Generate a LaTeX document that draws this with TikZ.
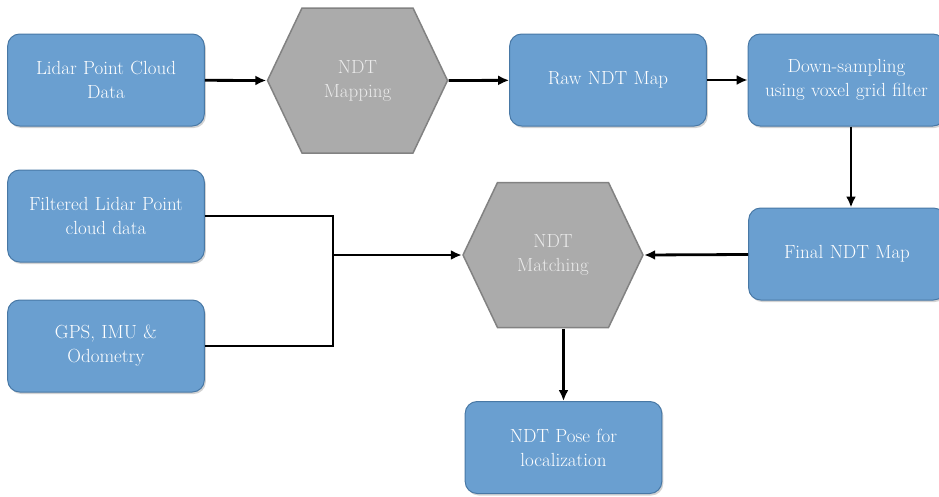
\documentclass[tikz,border=0pt]{standalone}
\usepackage{tikz}
\usetikzlibrary{arrows.meta}
\usetikzlibrary{shadows}
\definecolor{boxblue}{RGB}{106,159,208}
\definecolor{boxedge}{RGB}{72,120,165}
\definecolor{hexgray}{RGB}{171,171,171}
\definecolor{hexedge}{RGB}{130,130,130}
\tikzset{box/.style={rectangle, rounded corners=12pt, fill=boxblue, draw=boxedge, line width=1pt,
      minimum width=194pt, minimum height=92pt, text width=190pt, align=center, text=white,
      font=\fontsize{19}{24}\selectfont, drop shadow={shadow xshift=1.5pt, shadow yshift=-2pt, opacity=0.35}}}
\tikzset{hexbox/.style={rectangle, minimum width=182pt, minimum height=147pt, inner sep=0pt,
      align=center, text=white!92!black, font=\fontsize{19}{24}\selectfont,
      path picture={
        \draw[fill=hexgray, draw=hexedge, line width=1.5pt]
          ([xshift=1pt]path picture bounding box.west)
          -- ([xshift=35.5pt,yshift=-1pt]path picture bounding box.north west)
          -- ([xshift=-35.5pt,yshift=-1pt]path picture bounding box.north east)
          -- ([xshift=-1pt]path picture bounding box.east)
          -- ([xshift=-35.5pt,yshift=1pt]path picture bounding box.south east)
          -- ([xshift=35.5pt,yshift=1pt]path picture bounding box.south west) -- cycle;}}}
\tikzset{flow/.style={line width=2.8pt, -{Latex[length=11pt,width=10pt]}}}

\begin{document}
\begin{tikzpicture}[x=1pt,y=-1pt]
		\useasboundingbox (0,0) rectangle (939,496);
		% top row
		\node[box] (lidar) at (106,80) {Lidar Point Cloud\\Data};
		\node[hexbox] (mapping) at (357.5,80.5) {NDT\\Mapping};
		\node[box] (raw) at (608,80) {Raw NDT Map};
		\node[box, minimum width=183pt] (down) at (846.5,80) {Down-sampling\\using voxel grid filter};
		% middle and bottom
		\node[box] (filtered) at (106,216) {Filtered Lidar Point\\cloud data};
		\node[box] (gps) at (106,346) {GPS, IMU \&\\Odometry};
		\node[hexbox] (matching) at (553,255) {NDT\\Matching};
		\node[box, minimum width=183pt] (final) at (847,254) {Final NDT Map};
		\node[box] (pose) at (563.5,447.5) {NDT Pose for\\localization};
		\coordinate (join) at (333,255);
		% connectors
		\draw[flow] (lidar) -- (mapping.west);
		\draw[flow] (mapping.east) -- (raw);
		\draw[flow] (raw) -- (down);
		\draw[flow] ([xshift=4.5pt]down.south) -- ([xshift=4.5pt]down.south |- final.north);
		\draw[flow] (final) -- (matching.east);
		\draw[flow] (pose.north |- matching.south) -- (pose.north);
		\draw[line width=2.8pt] (filtered.east) -| (join);
		\draw[line width=2.8pt] (gps.east) -| (join);
		\draw[flow] (join) -- (matching.west);
\end{tikzpicture}
\end{document}
